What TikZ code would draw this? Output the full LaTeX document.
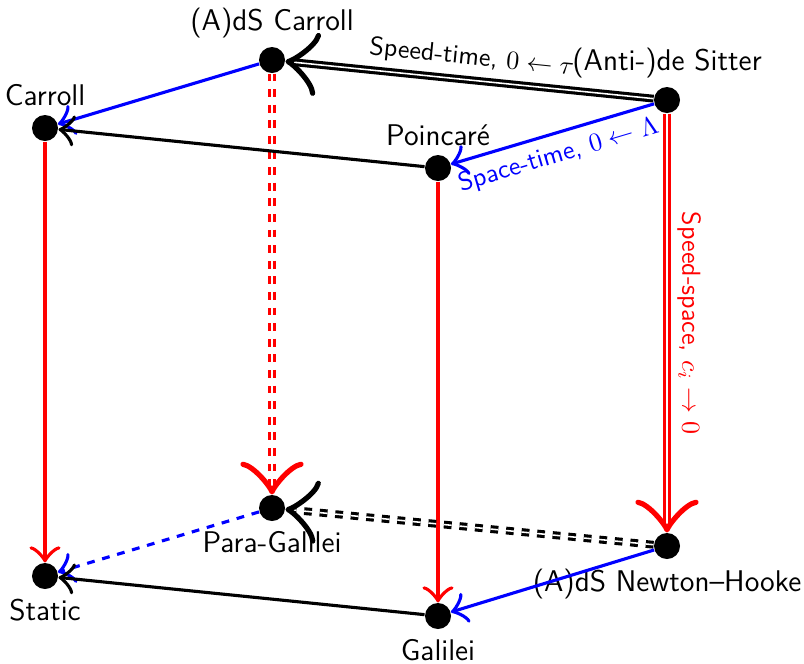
\documentclass[tikz,border=0pt]{standalone}
\usetikzlibrary{arrows.meta}
\begin{document}
\begin{tikzpicture}[x=0.3846pt,y=-0.3846pt,
  big/.style={font=\fontsize{11.5}{14}\selectfont\sffamily},
  vtx/.style={circle,fill=black,inner sep=0pt,minimum size=10pt},
  every label/.style={big,inner sep=2pt},
  up/.style={label={[label distance=1pt]above:{#1}}},
  down/.style={label={[label distance=1.5pt]below:{#1}}},
  con/.style={very thick,-{Classical TikZ Rightarrow[scale=1.85,line width=1.2pt,round]}},
  dcon/.style={very thick,double,-{Classical TikZ Rightarrow[scale=1.85,line width=2pt,round]}},
  lab/.style={font=\sffamily,midway,sloped}]
\useasboundingbox (0,0) rectangle (804,663);

% the eight kinematical algebras
\node[vtx,up={(A)dS Carroll}] (adsc) at (272,60) {};
\node[vtx,up={(Anti-)de Sitter}] (ads) at (667,100) {};
\node[vtx,up={Carroll}] (car) at (45,128) {};
\node[vtx,up={Poincaré}] (poi) at (438,168) {};
\node[vtx,down={Para-Galilei}] (pg) at (272,508) {};
\node[vtx,down={(A)dS Newton--Hooke}] (nh) at (667,546) {};
\node[vtx,down={Static}] (sta) at (45,576) {};
\node[vtx,down={Galilei}] (gal) at (438,616) {};

% contractions
\draw[dcon] (ads) -- node[lab,above] {Speed-time, $0\leftarrow\tau$} (adsc);
\draw[con,blue] (ads) -- node[lab,below] {Space-time, $0\leftarrow\Lambda$} (poi);
\draw[dcon,red] (ads) -- node[lab,above] {Speed-space, $c_i\to 0$} (nh);
\draw[con,blue] (adsc) -- (car);
\draw[dcon,red,dashed] (adsc) -- (pg);
\draw[con] (poi) -- (car);
\draw[con,red] (poi) -- (gal);
\draw[con,red] (car) -- (sta);
\draw[dcon,dashed] (nh) -- (pg);
\draw[con,blue] (nh) -- (gal);
\draw[con,blue,dashed] (pg) -- (sta);
\draw[con] (gal) -- (sta);
\end{tikzpicture}
\end{document}
